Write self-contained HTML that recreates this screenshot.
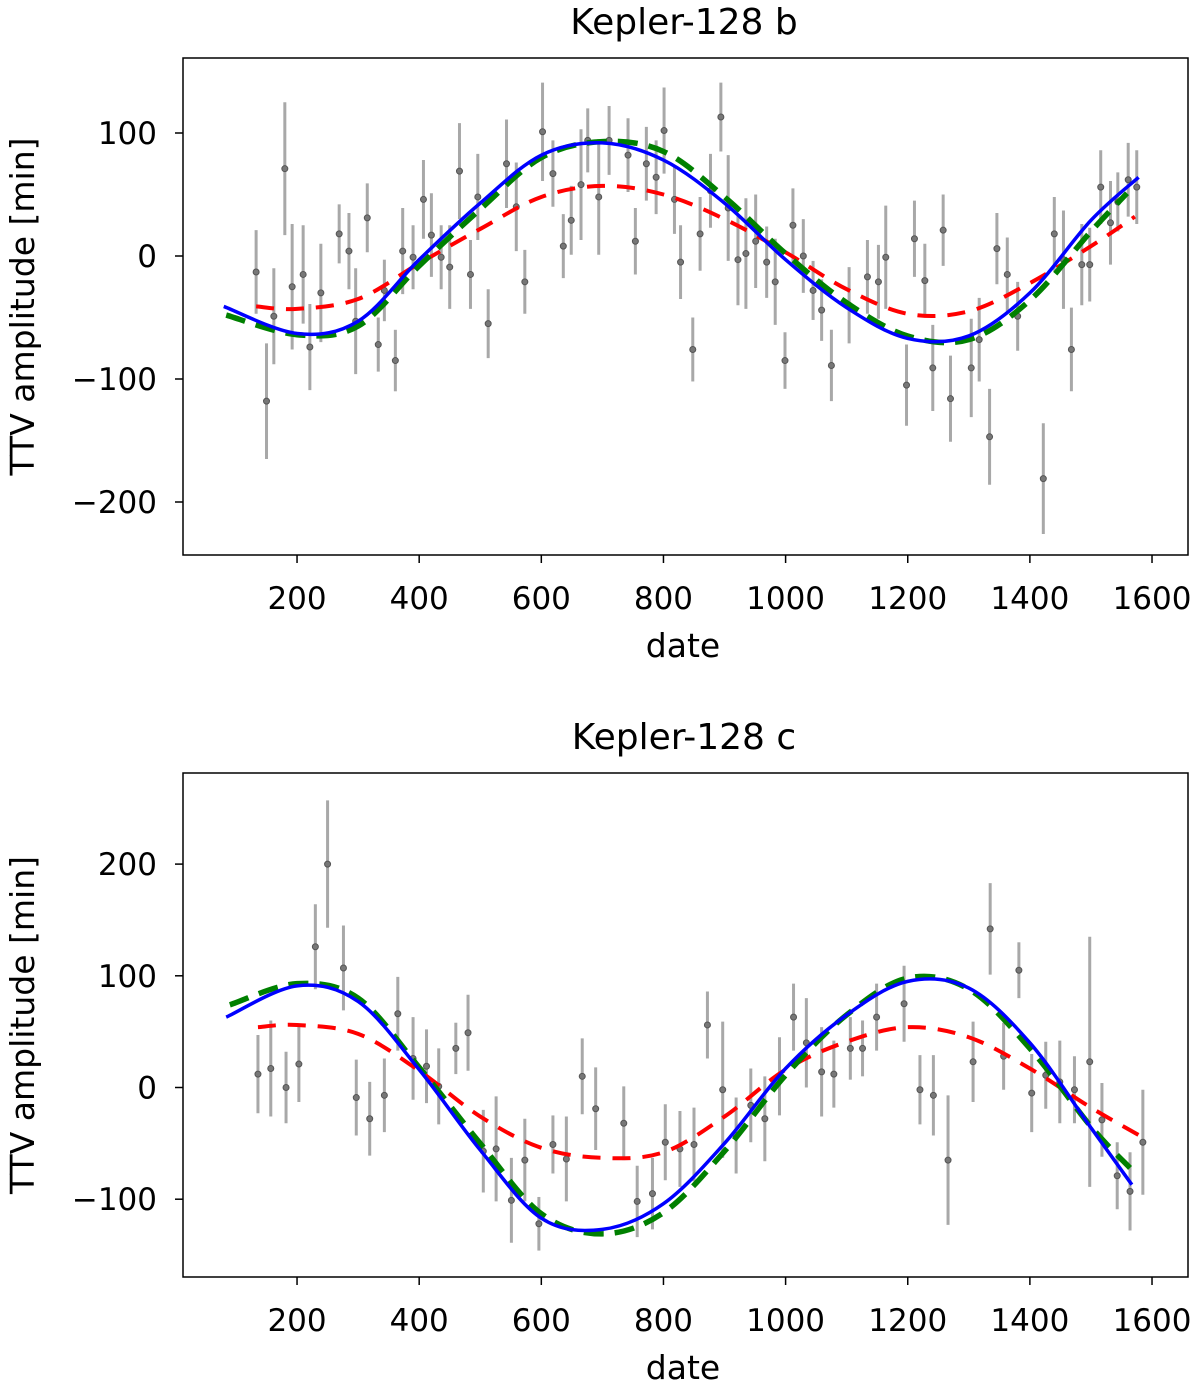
<!DOCTYPE html>
<html><head><meta charset="utf-8"><style>
body{margin:0;background:#fff;}
svg text{font-family:"DejaVu Sans","Liberation Sans",sans-serif;fill:#000;}
</style></head><body>
<svg id="fig" width="1200" height="1385" xmlns="http://www.w3.org/2000/svg"></svg>
<script>
// ---------- Kepler-128 b data ----------
const bX=[133,150,162,180,192,210,221,239,269,285,296,315,333,343,361,373,390,407,420,436,450,466,484,496,513,543,559,573,602,619,636,649,665,676,694,711,742,754,772,788,801,818,828,848,860,877,894,906,922,935,951,969,983,999,1012,1029,1045,1059,1075,1104,1134,1152,1164,1198,1211,1228,1241,1258,1270,1304,1317,1334,1346,1363,1380,1422,1440,1455,1468,1485,1498,1516,1532,1544,1561,1575];
const bY=[-13,-118,-49,71,-25,-15,-74,-30,18,4,-53,31,-72,-28,-85,4,-1,46,17,-1,-9,69,-15,48,-55,75,40,-21,101,67,8,29,58,94,48,94,82,12,75,64,102,46,-5,-76,18,53,113,39,-3,2,12,-5,-21,-85,25,0,-28,-44,-89,-40,-17,-21,-1,-105,14,-20,-91,21,-116,-91,-68,-147,6,-15,-49,-181,18,-3,-76,-7,-7,56,27,44,62,56];
const bErr=[34,47,39,54,51,40,35,40,24,31,43,28,22,25,25,35,26,32,34,26,34,39,28,35,28,36,36,26,40,27,26,28,45,26,47,28,30,27,30,30,35,28,30,26,30,30,28,43,37,45,38,29,35,23,30,30,24,25,29,31,30,30,42,33,31,30,35,29,35,40,34,39,29,30,28,45,30,40,34,33,30,30,34,24,30,30];
const bBlueX=[80,200,300,400,500,600,700,800,900,1000,1100,1200,1300,1400,1500,1578];
const bBlue=[-41,-63,-53,-3,43,82,92,78,43,-3,-42,-67,-65,-30,29,64];
const bGreenX=[84,200,300,400,500,600,700,800,900,1000,1100,1200,1300,1400,1500,1559];
const bGreen=[-48,-64,-57,-8,38,80,93,85,48,2,-38,-65,-68,-36,20,51];
const bRedX=[133,200,300,400,500,600,700,800,900,1000,1100,1200,1300,1400,1500,1572];
const bRed=[-41,-43,-35,-6,22,48,57,50,30,3,-27,-47,-45,-22,8,32];
const bYTicks=[-200,-100,0,100];
// ---------- Kepler-128 c data ----------
const cX=[136,157,182,203,230,250,276,297,319,343,365,390,412,432,460,480,505,526,551,573,596,619,641,667,689,735,757,782,803,827,850,872,897,919,943,966,990,1013,1034,1059,1079,1106,1126,1149,1194,1220,1242,1266,1307,1335,1357,1382,1403,1426,1449,1473,1498,1518,1543,1564,1585];
const cY=[12,17,0,21,126,200,107,-9,-28,-7,66,26,19,1,35,49,-57,-55,-101,-65,-122,-51,-64,10,-19,-32,-102,-95,-49,-55,-51,56,-2,-43,-16,-28,10,63,40,14,12,35,35,63,75,-2,-7,-65,23,142,28,105,-5,11,5,-2,23,-29,-79,-93,-49];
const cErr=[35,43,32,34,38,57,38,34,33,33,33,37,33,34,23,34,37,47,38,37,24,26,38,34,37,33,32,32,34,34,33,30,61,34,33,38,35,30,40,40,30,28,25,30,34,31,36,58,36,41,30,25,35,30,37,30,112,33,30,35,47];
const cBlueX=[84,200,300,400,500,600,700,800,900,1000,1100,1200,1300,1400,1500,1567];
const cBlue=[63,91,77,16,-56,-117,-127,-104,-50,17,65,95,89,40,-36,-87];
const cGreenX=[90,200,300,400,500,600,700,800,900,1000,1100,1200,1300,1400,1500,1564];
const cGreen=[74,93,80,18,-50,-113,-131,-112,-57,11,65,98,88,35,-35,-72];
const cRedX=[136,200,300,400,500,600,700,800,900,1000,1100,1200,1300,1400,1500,1586];
const cRed=[54,56,48,15,-26,-54,-63,-58,-26,16,41,54,45,17,-18,-45];
const cYTicks=[-100,0,100,200];
const xTicks=[200,400,600,800,1000,1200,1400,1600];

const NS='http://www.w3.org/2000/svg';
const svg=document.getElementById('fig');
function mk(tag,attrs,parent){const e=document.createElementNS(NS,tag);for(const k in attrs)e.setAttribute(k,attrs[k]);(parent||svg).appendChild(e);return e;}
function smooth(px,py){let d='M'+px[0]+','+py[0];for(let i=0;i<px.length-1;i++){const x0=px[Math.max(i-1,0)],y0=py[Math.max(i-1,0)],x1=px[i],y1=py[i],x2=px[i+1],y2=py[i+1],x3=px[Math.min(i+2,px.length-1)],y3=py[Math.min(i+2,px.length-1)];d+=' C'+(x1+(x2-x0)/6)+','+(y1+(y2-y0)/6)+' '+(x2-(x3-x1)/6)+','+(y2-(y3-y1)/6)+' '+x2+','+y2;}return d;}

function panel(cfg){
  const g=mk('g',{});
  
  
  const X=v=>174.9+v*0.6107;
  const Y=v=>cfg.y0-v*cfg.ys;
  for(let i=0;i<cfg.dx.length;i++){
    const l=mk('line',{x1:X(cfg.dx[i]),x2:X(cfg.dx[i]),y1:Y(cfg.dy[i]-cfg.de[i]),y2:Y(cfg.dy[i]+cfg.de[i]),stroke:'#a8a8a8','stroke-width':3},g);
    
    
    const c=mk('circle',{cx:X(cfg.dx[i]),cy:Y(cfg.dy[i]),r:3,fill:'#777','stroke':'#555','stroke-width':1},g);
    
    
  }
  const curves=[
    [cfg.rx,cfg.ry,'#ff0000',4,'18 12','red-model-curve'],
    [cfg.gx,cfg.gy,'#008000',5.5,'20 11','green-model-curve'],
    [cfg.ux,cfg.uy,'#0000ff',3.5,'','blue-model-curve']];
  for(const [xs,ys,col,w,da,nm] of curves){
    const p=mk('path',{d:smooth(xs.map(X),ys.map(Y)),fill:'none',stroke:col,'stroke-width':w,'stroke-dasharray':da},g);
    
    
  }
  const fr=mk('rect',{x:183,y:cfg.top,width:1005,height:cfg.bot-cfg.top,fill:'none',stroke:'#000','stroke-width':1.5},g);
  
  
  for(const t of xTicks){
    mk('line',{x1:X(t),x2:X(t),y1:cfg.bot,y2:cfg.bot+8,stroke:'#000','stroke-width':1.5},g);
    const tx=mk('text',{x:X(t),y:cfg.bot+54,'font-size':31,'text-anchor':'middle'},g);
    tx.textContent=String(t);
    
    
  }
  for(const t of cfg.yt){
    mk('line',{x1:175,x2:183,y1:Y(t),y2:Y(t),stroke:'#000','stroke-width':1.5},g);
    const ty=mk('text',{x:157,y:Y(t)+11,'font-size':31,'text-anchor':'end'},g);
    ty.textContent=(t<0?'\u2212'+(-t):String(t));
    
    
  }
  const ti=mk('text',{x:684,y:cfg.top-24,'font-size':36,'text-anchor':'middle'},g);
  ti.textContent=cfg.title;
  
  
  const xl=mk('text',{x:683,y:cfg.bot+102,'font-size':33,'text-anchor':'middle'},g);
  xl.textContent='date';
  
  
  const cy=(cfg.top+cfg.bot)/2;
  const yl=mk('text',{x:0,y:0,'font-size':33,'text-anchor':'middle',transform:'translate(34,'+cy+') rotate(-90)'},g);
  yl.textContent='TTV amplitude [min]';
  
  
}
panel({name:'kepler-128b-panel',title:'Kepler-128 b',top:58,bot:555,y0:256,ys:1.23,dx:bX,dy:bY,de:bErr,ux:bBlueX,uy:bBlue,gx:bGreenX,gy:bGreen,rx:bRedX,ry:bRed,yt:bYTicks});
panel({name:'kepler-128c-panel',title:'Kepler-128 c',top:773,bot:1277,y0:1087.5,ys:1.117,dx:cX,dy:cY,de:cErr,ux:cBlueX,uy:cBlue,gx:cGreenX,gy:cGreen,rx:cRedX,ry:cRed,yt:cYTicks});
</script>
</body></html>
